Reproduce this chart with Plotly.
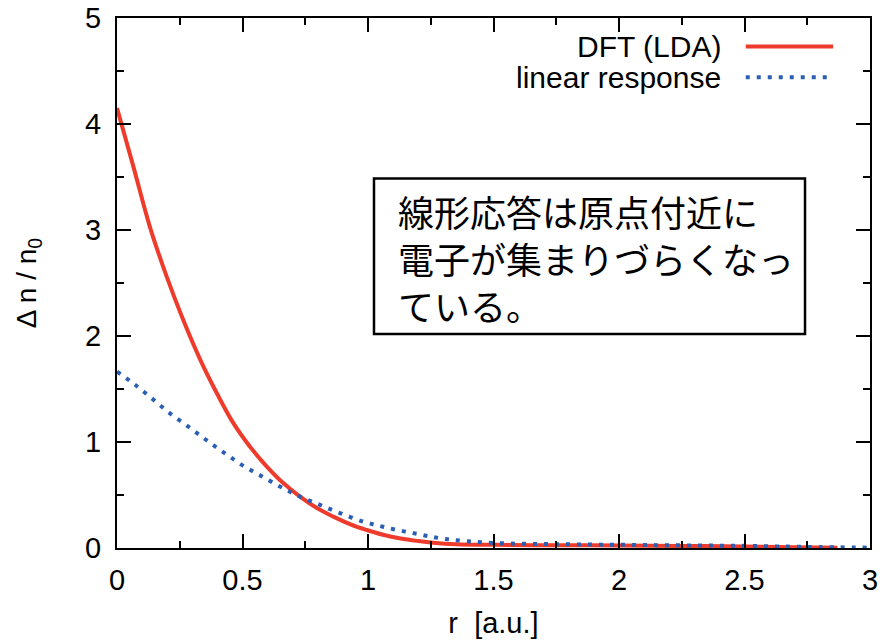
import plotly.graph_objects as go

# ---- data ----
r_dft = [0, 0.065, 0.131, 0.198, 0.264, 0.331, 0.40, 0.463, 0.53, 0.596, 0.66,
         0.729, 0.80, 0.862, 0.93, 0.995, 1.06, 1.13, 1.20, 1.26, 1.35, 1.50,
         1.75, 2.00, 2.25, 2.50, 2.70, 2.87]
dn_dft = [4.15, 3.60, 3.03, 2.56, 2.15, 1.78, 1.45, 1.18, 0.955, 0.77, 0.617,
          0.485, 0.372, 0.296, 0.223, 0.17, 0.125, 0.09, 0.066, 0.05, 0.036, 0.03,
          0.026, 0.024, 0.02, 0.015, 0.008, 0.003]

r_lin = [0, 0.072, 0.145, 0.211, 0.284, 0.355, 0.426, 0.50, 0.574, 0.649, 0.729,
         0.809, 0.888, 0.98, 1.06, 1.18, 1.31, 1.50, 1.75, 2.00, 2.25, 2.50,
         2.75, 3.00]
dn_lin = [1.665, 1.54, 1.40, 1.27, 1.145, 1.02, 0.90, 0.78, 0.68, 0.58, 0.485,
          0.406, 0.33, 0.25, 0.20, 0.14, 0.085, 0.048, 0.036, 0.03, 0.025, 0.02,
          0.01, 0.003]

series_names = ["DFT (LDA)", "linear response"]
x_ticks = [0, 0.5, 1, 1.5, 2, 2.5, 3]
x_tick_labels = ["0", "0.5", "1", "1.5", "2", "2.5", "3"]
y_ticks = [0, 1, 2, 3, 4, 5]
y_tick_labels = ["0", "1", "2", "3", "4", "5"]
note_lines = ["線形応答は原点付近に", "電子が集まりづらくなっ", "ている。"]

RED = "#ee3b2b"
BLUE = "#2b5fb4"
FONT = "Liberation Sans, Arial, sans-serif"

fig = go.Figure()
fig.add_trace(go.Scatter(x=r_dft, y=dn_dft, mode="lines", name=series_names[0],
                         line=dict(color=RED, width=4, shape="spline"),
                         showlegend=False))
fig.add_trace(go.Scatter(x=r_lin, y=dn_lin, mode="lines", name=series_names[1],
                         line=dict(color=BLUE, width=4, dash="4px,7px", shape="spline"),
                         showlegend=False))

axis_common = dict(
    showline=True, linecolor="black", linewidth=2, mirror="ticks",
    ticks="inside", ticklen=14, tickwidth=2, tickcolor="black",
    showgrid=False, zeroline=False, automargin=False,
    tickfont=dict(family=FONT, size=29, color="black"),
)

fig.update_xaxes(range=[0, 3], tickvals=x_ticks, ticktext=x_tick_labels,
                 minor=dict(dtick=0.25, ticks="inside", ticklen=7, tickwidth=2, tickcolor="black"),
                 title=dict(text="r\u00a0\u00a0[a.u.]", font=dict(family=FONT, size=29, color="black"),
                            standoff=18),
                 ticklabelstandoff=5,
                 **axis_common)
fig.update_yaxes(range=[0, 5], tickvals=y_ticks, ticktext=y_tick_labels,
                 minor=dict(dtick=0.5, ticks="inside", ticklen=7, tickwidth=2, tickcolor="black"),
                 title=dict(text="Δ n / n<sub>0</sub>", font=dict(family=FONT, size=28, color="black"),
                            standoff=40),
                 ticklabelstandoff=8,
                 **axis_common)

# manual legend (text right, sample line at right)
legend_rows = [(0.946, RED, None), (0.888, BLUE, "4px,7px")]
for (yy, col, dash), name in zip(legend_rows, series_names):
    fig.add_annotation(x=0.805, y=yy, xref="paper", yref="paper", text=name,
                       showarrow=False, xanchor="right", yanchor="middle",
                       font=dict(family=FONT, size=30, color="black"))
    fig.add_shape(type="line", xref="paper", yref="paper", x0=0.835, x1=0.951,
                  y0=yy, y1=yy, line=dict(color=col, width=4, dash=dash))

# annotation box
fig.add_shape(type="rect", xref="paper", yref="paper", x0=0.3413, x1=0.9137,
              y0=0.404, y1=0.697, line=dict(color="black", width=2.5),
              fillcolor="white", layer="above")
fig.add_annotation(x=0.3705, y=0.548, xref="paper", yref="paper",
                   text="<br>".join(note_lines), showarrow=False,
                   xanchor="left", yanchor="middle", align="left",
                   font=dict(family="Noto Sans CJK JP", size=36, color="black"))

fig.update_layout(
    width=883, height=642,
    margin=dict(l=117, r=13, t=18, b=94),
    plot_bgcolor="white", paper_bgcolor="white",
    showlegend=False,
)

fig.write_html("out.html")
